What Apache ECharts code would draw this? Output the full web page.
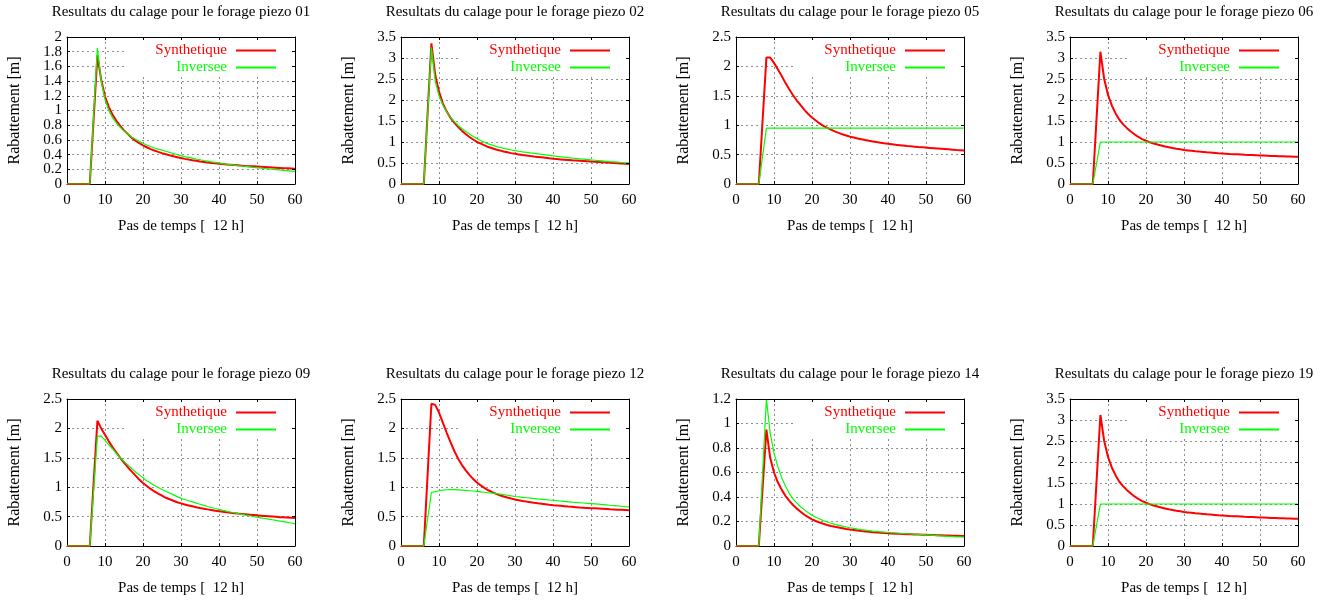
<!DOCTYPE html>
<html><head><meta charset="utf-8">
<script src="https://cdn.jsdelivr.net/npm/echarts@6/dist/echarts.min.js"></script>
<style>html,body{margin:0;padding:0;background:#fff}#c{width:1332px;height:601px}</style>
</head><body><div id="c"></div>
<script>
// ---------- DATA ----------
const steps = [0,1,2,3,4,5,6,7,8,9,10,11,12,13,14,15,16,17,18,19,20,21,22,23,24,25,26,27,28,29,30,31,32,33,34,35,36,37,38,39,40,41,42,43,44,45,46,47,48,49,50,51,52,53,54,55,56,57,58,59,60];
const piezoIds = ['01','02','05','06','09','12','14','19'];
const yMaxes = [2, 3.5, 2.5, 3.5, 2.5, 2.5, 1.2, 3.5];
const yIntervals = [0.2, 0.5, 0.5, 0.5, 0.5, 0.5, 0.2, 0.5];
const xMin = 0, xMax = 60, xInterval = 10;
const seriesNames = ['Synthetique', 'Inversee'];

const synth01 = [0,0,0,0,0,0,0,0.88,1.75,1.42,
1.19,1.05,0.94,0.86,0.79,0.73,0.68,0.63,0.59,0.555,
0.525,0.5,0.475,0.455,0.437,0.42,0.405,0.39,0.377,0.365,
0.353,0.342,0.332,0.323,0.315,0.307,0.3,0.293,0.287,0.281,
0.276,0.271,0.266,0.262,0.258,0.254,0.25,0.246,0.243,0.24,
0.237,0.234,0.231,0.228,0.225,0.222,0.219,0.216,0.213,0.21,
0.207];
const inv01 = [0,0,0,0,0,0,0,0.93,1.85,1.4,
1.15,1.0,0.9,0.83,0.77,0.72,0.68,0.64,0.61,0.58,
0.555,0.53,0.51,0.49,0.475,0.46,0.445,0.43,0.415,0.4,
0.385,0.373,0.362,0.351,0.34,0.33,0.32,0.311,0.302,0.294,
0.286,0.278,0.271,0.264,0.257,0.25,0.244,0.238,0.232,0.226,
0.221,0.216,0.211,0.206,0.201,0.196,0.191,0.186,0.181,0.176,
0.171];
const synth02 = [0,0,0,0,0,0,0,1.68,3.35,2.6,
2.2,1.92,1.73,1.58,1.46,1.36,1.27,1.19,1.12,1.06,
1.0,0.96,0.92,0.88,0.85,0.82,0.8,0.775,0.755,0.735,
0.72,0.705,0.69,0.678,0.666,0.655,0.645,0.635,0.625,0.612,
0.6,0.593,0.586,0.579,0.572,0.565,0.559,0.553,0.547,0.541,
0.535,0.529,0.523,0.517,0.511,0.505,0.499,0.493,0.487,0.481,
0.475];
const inv02 = [0,0,0,0,0,0,0,1.63,3.25,2.45,
2.1,1.88,1.72,1.59,1.49,1.4,1.32,1.25,1.19,1.13,
1.08,1.03,0.99,0.955,0.925,0.895,0.87,0.85,0.83,0.81,
0.795,0.78,0.766,0.753,0.74,0.728,0.716,0.704,0.692,0.68,
0.668,0.658,0.648,0.638,0.628,0.618,0.609,0.6,0.591,0.582,
0.573,0.565,0.557,0.549,0.541,0.533,0.526,0.519,0.512,0.505,
0.498];
const synth05 = [0,0,0,0,0,0,0,1.08,2.15,2.15,
2.06,1.95,1.84,1.72,1.61,1.51,1.42,1.34,1.26,1.19,
1.13,1.08,1.03,0.99,0.955,0.925,0.895,0.87,0.845,0.825,
0.805,0.79,0.775,0.76,0.747,0.735,0.724,0.713,0.703,0.693,
0.684,0.676,0.668,0.661,0.654,0.647,0.641,0.635,0.629,0.624,
0.619,0.614,0.609,0.604,0.599,0.594,0.589,0.584,0.579,0.575,
0.571];
const inv05 = [0,0,0,0,0,0,0,0.475,0.95,0.95,
0.95,0.95,0.95,0.95,0.95,0.95,0.95,0.95,0.95,0.95,
0.95,0.95,0.95,0.95,0.95,0.95,0.95,0.95,0.95,0.95,
0.95,0.95,0.95,0.95,0.95,0.95,0.95,0.95,0.95,0.95,
0.95,0.95,0.95,0.95,0.95,0.95,0.95,0.95,0.95,0.95,
0.95,0.95,0.95,0.95,0.95,0.95,0.95,0.95,0.95,0.95,
0.95];
const synth06 = [0,0,0,0,0,0,0,1.58,3.15,2.5,
2.12,1.87,1.68,1.53,1.42,1.33,1.25,1.18,1.12,1.07,
1.03,0.995,0.965,0.94,0.915,0.895,0.875,0.857,0.84,0.825,
0.81,0.8,0.79,0.78,0.771,0.763,0.755,0.748,0.741,0.734,
0.728,0.722,0.716,0.711,0.706,0.701,0.696,0.692,0.688,0.684,
0.68,0.676,0.672,0.668,0.665,0.662,0.659,0.656,0.653,0.65,
0.647];
const inv06 = [0,0,0,0,0,0,0,0.5,1,1,
1,1,1,1,1,1,1,1,1,1,
1,1,1,1,1,1,1,1,1,1,
1,1,1,1,1,1,1,1,1,1,
1,1,1,1,1,1,1,1,1,1,
1,1,1,1,1,1,1,1,1,1,
1];
const synth09 = [0,0,0,0,0,0,0,1.07,2.13,2.0,
1.89,1.78,1.68,1.59,1.5,1.42,1.34,1.27,1.2,1.13,
1.07,1.02,0.97,0.93,0.89,0.855,0.82,0.795,0.77,0.745,
0.725,0.705,0.69,0.675,0.66,0.647,0.635,0.623,0.612,0.601,
0.591,0.582,0.573,0.565,0.558,0.551,0.545,0.539,0.533,0.527,
0.521,0.516,0.511,0.506,0.501,0.496,0.491,0.487,0.483,0.479,
0.475];
const inv09 = [0,0,0,0,0,0,0,0.93,1.87,1.87,
1.8,1.72,1.65,1.57,1.5,1.44,1.38,1.32,1.26,1.21,
1.16,1.11,1.07,1.03,0.995,0.96,0.93,0.9,0.87,0.84,
0.81,0.79,0.77,0.75,0.73,0.71,0.69,0.672,0.655,0.638,
0.622,0.607,0.592,0.578,0.565,0.552,0.539,0.526,0.514,0.502,
0.49,0.479,0.468,0.457,0.446,0.435,0.424,0.413,0.402,0.391,
0.38];
const synth12 = [0,0,0,0,0,0,0,1.21,2.42,2.4,
2.27,2.1,1.93,1.77,1.62,1.49,1.38,1.29,1.21,1.14,
1.08,1.03,0.985,0.948,0.915,0.888,0.864,0.843,0.824,0.807,
0.792,0.779,0.766,0.755,0.745,0.735,0.726,0.718,0.71,0.702,
0.695,0.689,0.683,0.677,0.671,0.666,0.661,0.656,0.652,0.648,
0.644,0.64,0.636,0.632,0.628,0.624,0.621,0.618,0.615,0.612,
0.609];
const inv12 = [0,0,0,0,0,0,0,0.455,0.91,0.925,
0.94,0.95,0.957,0.96,0.958,0.955,0.95,0.945,0.94,0.935,
0.93,0.922,0.914,0.906,0.898,0.89,0.882,0.874,0.863,0.852,
0.842,0.835,0.828,0.821,0.814,0.807,0.8,0.794,0.788,0.782,
0.776,0.77,0.764,0.758,0.752,0.746,0.741,0.736,0.731,0.726,
0.721,0.716,0.711,0.705,0.699,0.693,0.688,0.682,0.676,0.67,
0.665];
const synth14 = [0,0,0,0,0,0,0,0.475,0.95,0.72,
0.6,0.52,0.46,0.41,0.37,0.335,0.305,0.28,0.255,0.235,
0.218,0.204,0.192,0.181,0.172,0.164,0.157,0.151,0.145,0.139,
0.134,0.13,0.126,0.122,0.119,0.116,0.113,0.111,0.109,0.107,
0.105,0.103,0.101,0.099,0.098,0.096,0.095,0.094,0.093,0.092,
0.091,0.09,0.089,0.088,0.087,0.086,0.085,0.084,0.083,0.082,
0.081];
const inv14 = [0,0,0,0,0,0,0,0.6,1.2,0.92,
0.76,0.65,0.56,0.49,0.43,0.385,0.35,0.32,0.295,0.272,
0.252,0.235,0.22,0.207,0.196,0.186,0.177,0.169,0.162,0.155,
0.149,0.144,0.139,0.134,0.13,0.126,0.122,0.119,0.116,0.113,
0.11,0.108,0.106,0.104,0.102,0.1,0.098,0.096,0.094,0.093,
0.091,0.089,0.087,0.085,0.083,0.081,0.079,0.077,0.075,0.074,
0.072];
const synth19 = [0,0,0,0,0,0,0,1.56,3.12,2.5,
2.12,1.87,1.68,1.53,1.42,1.33,1.25,1.18,1.12,1.07,
1.03,0.995,0.965,0.94,0.915,0.895,0.875,0.857,0.84,0.825,
0.81,0.8,0.79,0.78,0.771,0.763,0.755,0.748,0.741,0.734,
0.728,0.722,0.716,0.711,0.706,0.701,0.696,0.692,0.688,0.684,
0.68,0.676,0.672,0.668,0.665,0.662,0.659,0.656,0.653,0.65,
0.647];
const inv19 = [0,0,0,0,0,0,0,0.5,1,1,
1,1,1,1,1,1,1,1,1,1,
1,1,1,1,1,1,1,1,1,1,
1,1,1,1,1,1,1,1,1,1,
1,1,1,1,1,1,1,1,1,1,
1,1,1,1,1,1,1,1,1,1,
1];

const synthetique = [synth01, synth02, synth05, synth06, synth09, synth12, synth14, synth19];
const inversee = [inv01, inv02, inv05, inv06, inv09, inv12, inv14, inv19];

// ---------- LAYOUT / STYLE ----------
const W = 1332;
const FONT = 'Liberation Serif';
const colLeft = [67, 401, 736, 1070];
const rowTop = [37, 399];
const plotW = 228, plotH = 147;
const RED = '#ff0000', GREEN = '#00ff00';
const GRIDLINE = {color: '#8f8f8f', width: 1, type: [2, 3]};
const labelStyle = {fontFamily: FONT, fontSize: 15, color: '#000'};

const option = {
  animation: false,
  backgroundColor: '#fff',
  title: [], grid: [], xAxis: [], yAxis: [], legend: [], series: []
};

piezoIds.forEach((id, i) => {
  const left = colLeft[i % 4];
  const top = rowTop[Math.floor(i / 4)];
  option.grid.push({left: left, top: top, width: plotW, height: plotH, show: false, containLabel: false});
  option.title.push({
    text: 'Resultats du calage pour le forage piezo ' + id,
    left: left + plotW / 2, textAlign: 'center', top: top - 32, padding: 0,
    textStyle: {fontFamily: FONT, fontSize: 15, fontWeight: 'normal', color: '#000'}
  });
  const xCommon = {gridIndex: i, type: 'value', min: xMin, max: xMax, interval: xInterval};
  option.xAxis.push(Object.assign({}, xCommon, {
    position: 'bottom',
    axisLine: {show: true, onZero: false, lineStyle: {color: '#000', width: 1}},
    axisTick: {show: true, inside: true, length: 3, lineStyle: {color: '#000'}},
    axisLabel: Object.assign({margin: 9, showMinLabel: true, showMaxLabel: true}, labelStyle),
    splitLine: {show: true, lineStyle: GRIDLINE},
    name: 'Pas de temps [  12 h]', nameLocation: 'middle', nameGap: 35,
    nameTextStyle: {fontFamily: FONT, fontSize: 15, color: '#000'}
  }));
  option.xAxis.push(Object.assign({}, xCommon, {
    position: 'top', z: 5,
    axisLine: {show: true, onZero: false, lineStyle: {color: '#000', width: 1}},
    axisTick: {show: true, inside: true, length: 3, lineStyle: {color: '#000'}},
    axisLabel: {show: false}, splitLine: {show: false}
  }));

  // y tick values (labels split over two axes so that none is dropped by overlap checks)
  const nTicks = Math.round(yMaxes[i] / yIntervals[i]);
  const tickVals = [];
  for (let k = 0; k <= nTicks; k++) tickVals.push(Math.round(k * yIntervals[i] * 1000) / 1000);
  const helperVals = [tickVals[1], tickVals[nTicks - 1]];
  const mainVals = tickVals.filter((v, k) => k !== 1 && k !== nTicks - 1);

  const yCommon = {gridIndex: i, type: 'value', min: 0, max: yMaxes[i], interval: yIntervals[i]};
  option.yAxis.push(Object.assign({}, yCommon, {
    position: 'left',
    axisLine: {show: true, onZero: false, lineStyle: {color: '#000', width: 1}},
    axisTick: {show: true, inside: true, length: 3, lineStyle: {color: '#000'}},
    axisLabel: Object.assign({margin: 5, customValues: mainVals, showMinLabel: true, showMaxLabel: true}, labelStyle),
    splitLine: {show: true, lineStyle: GRIDLINE},
    name: 'Rabattement [m]', nameLocation: 'middle', nameGap: 44,
    nameTextStyle: {fontFamily: FONT, fontSize: 16, color: '#000'}
  }));
  option.yAxis.push(Object.assign({}, yCommon, {
    position: 'right', z: 5,
    axisLine: {show: true, onZero: false, lineStyle: {color: '#000', width: 1}},
    axisTick: {show: true, inside: true, length: 3, lineStyle: {color: '#000'}},
    axisLabel: {show: false}, splitLine: {show: false}
  }));
  option.yAxis.push(Object.assign({}, yCommon, {
    position: 'left', offset: 0,
    axisLine: {show: false}, axisTick: {show: false}, splitLine: {show: false},
    axisLabel: Object.assign({margin: 5, customValues: helperVals, showMinLabel: true, showMaxLabel: true}, labelStyle)
  }));
  option.legend.push({
    orient: 'vertical', align: 'right',
    right: W - (left + plotW) + 1, top: top + 1,
    itemWidth: 40, itemHeight: 14, itemGap: 2,
    padding: [5, 17, 2, 30],
    backgroundColor: '#fff', selectedMode: false,
    itemStyle: {opacity: 0},
    textStyle: {fontFamily: FONT, fontSize: 15, padding: [0, 4, 0, 0]},
    data: [
      {name: seriesNames[0], textStyle: {color: RED}},
      {name: seriesNames[1], textStyle: {color: GREEN}}
    ]
  });
  option.series.push({
    name: seriesNames[0], type: 'line', xAxisIndex: 2 * i, yAxisIndex: 3 * i,
    data: steps.map((x, k) => [x, synthetique[i][k]]),
    symbol: 'none', color: RED, lineStyle: {color: RED, width: 2}, z: 2, silent: true
  });
  option.series.push({
    name: seriesNames[1], type: 'line', xAxisIndex: 2 * i, yAxisIndex: 3 * i,
    data: steps.map((x, k) => [x, inversee[i][k]]),
    symbol: 'none', color: GREEN, lineStyle: {color: GREEN, width: 1.2}, z: 3, silent: true
  });
});

const chart = echarts.init(document.getElementById('c'), null, {renderer: 'canvas'});
chart.setOption(option);
</script>
</body></html>
